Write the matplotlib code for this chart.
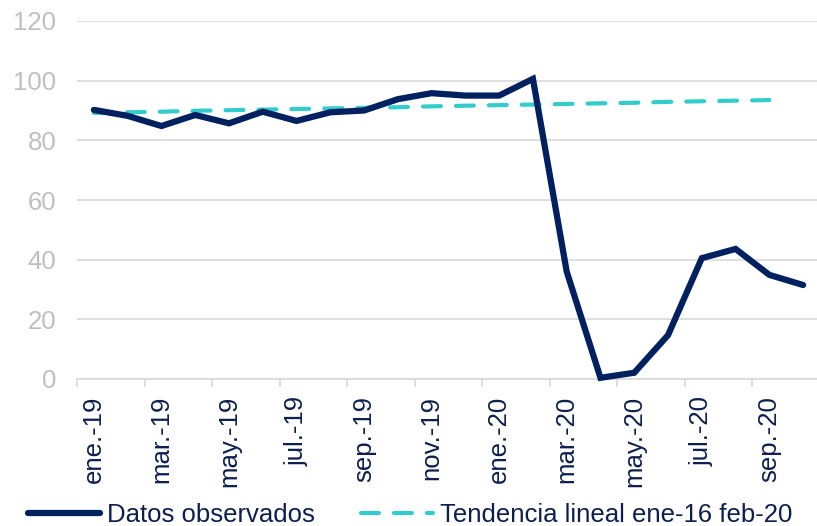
import matplotlib
matplotlib.use('Agg')
import matplotlib.pyplot as plt
import numpy as np

plt.rcParams['font.family'] = ['Liberation Sans', 'DejaVu Sans']

months = ['ene.-19', 'feb.-19', 'mar.-19', 'abr.-19', 'may.-19', 'jun.-19',
          'jul.-19', 'ago.-19', 'sep.-19', 'oct.-19', 'nov.-19', 'dic.-19',
          'ene.-20', 'feb.-20', 'mar.-20', 'abr.-20', 'may.-20', 'jun.-20',
          'jul.-20', 'ago.-20', 'sep.-20', 'oct.-20']

observed = [90.2, 88.2, 84.8, 88.5, 85.7, 89.6, 86.5, 89.4, 90.0, 93.8, 95.8,
            95.0, 95.0, 100.6, 36.0, 0.4, 2.1, 14.7, 40.5, 43.6, 34.9, 31.5]

trend = [89.2, 89.4, 89.6, 89.9, 90.1, 90.3, 90.5, 90.7, 90.9, 91.1, 91.4,
         91.6, 91.8, 92.0, 92.2, 92.4, 92.6, 92.9, 93.1, 93.3, 93.5]

navy = '#002060'
cyan = '#33CCCC'
grid_gray = '#D9D9D9'
label_gray = '#BFBFBF'
text_navy = '#0D1F4F'

W, H = 817, 526
fig = plt.figure(figsize=(W / 100, H / 100), dpi=100)
ax = fig.add_axes([77 / W, 1 - 379 / H, 743 / W, 358 / H])

x_obs = np.arange(len(observed))
x_trend = np.arange(len(trend))

ax.plot(x_obs, observed, color=navy, lw=4.5, solid_joinstyle='miter',
        solid_capstyle='round', clip_on=False, zorder=3,
        label='Datos observados')
ax.plot(x_trend, trend, color=cyan, lw=3.0, dashes=(4.3, 3.6),
        dash_capstyle='round', clip_on=False, zorder=2,
        label='Tendencia lineal ene-16 feb-20')

ax.set_xlim(-0.5, len(months) - 0.5)
ax.set_ylim(0, 120)
ax.set_yticks(np.arange(0, 121, 20))
ax.yaxis.grid(True, color=grid_gray, lw=1.2)
ax.set_axisbelow(True)

for s in ['left', 'right', 'top']:
    ax.spines[s].set_visible(False)
ax.spines['bottom'].set_color(grid_gray)
ax.spines['bottom'].set_linewidth(1.2)

ax.tick_params(axis='y', length=0, pad=15, labelsize=18.5,
               labelcolor=label_gray)

# labels on every other month, tick marks at category boundaries
ax.set_xticks(np.arange(-0.5, len(months), 2))
ax.set_xticklabels([])
ax.set_xticks(np.arange(0, len(months), 2), minor=True)
ax.set_xticklabels(months[::2], minor=True, rotation=90, fontsize=18.5,
                   color=text_navy)
ax.tick_params(axis='x', which='major', length=6, width=1.2, color=grid_gray)
ax.tick_params(axis='x', which='minor', length=0, pad=12)

leg = fig.legend(loc='lower left', bbox_to_anchor=(28 / W, -1 / H), ncol=2,
                 frameon=False, fontsize=18.5, handlelength=2.8,
                 handletextpad=0.27, columnspacing=1.8, borderpad=0,
                 borderaxespad=0)
for t in leg.get_texts():
    t.set_color(text_navy)

fig.savefig('out.png', dpi=100)
